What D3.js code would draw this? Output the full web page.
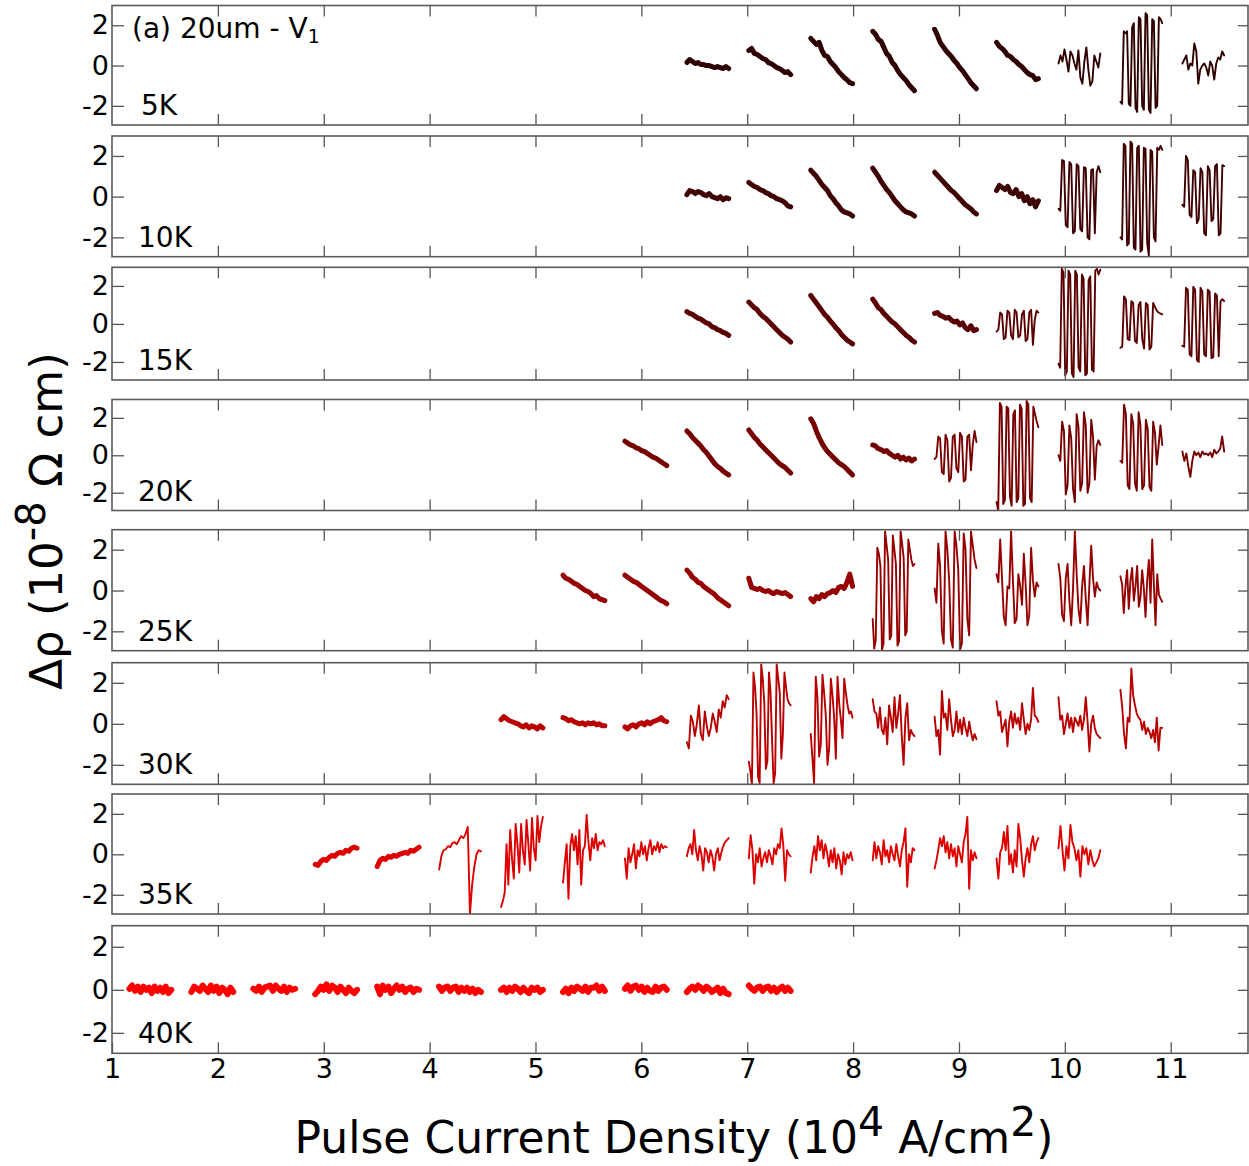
<!DOCTYPE html>
<html>
<head>
<meta charset="utf-8">
<script src="https://cdn.jsdelivr.net/npm/d3@7"></script>
<style>
  body { margin: 0; background: #fff; }
  svg { display: block; font-family: "DejaVu Sans", sans-serif; }
</style>
</head>
<body>
<div id="chart"></div>
<script>
// current density at the start of each pulse train (10^4 A/cm^2)
const pulseStart = [1.165, 1.75, 2.335, 2.92, 3.505, 4.09, 4.675, 5.26, 5.845,
                    6.43, 7.015, 7.6, 8.185, 8.77, 9.355, 9.94, 10.525, 11.11];
const pulseSpan = 0.395;

const temps = ["5K", "10K", "15K", "20K", "25K", "30K", "35K", "40K"];
const colors = ["#2e0000", "#3e0000", "#5a0000", "#760000", "#960000", "#b80000", "#dd0000", "#ff0000"];
// index into pulseStart of the first train measured at each temperature
const firstPulse = [9, 9, 9, 8, 7, 6, 3, 0];

const xTicks = [1, 2, 3, 4, 5, 6, 7, 8, 9, 10, 11];
const yTicks = [-2, 0, 2];

const trace5K = [
  [0.15, 0.3, 0.2, 0.1, 0.15, 0.05, 0.05, 0.0, 0.0, -0.05, -0.1, -0.05, -0.1, -0.15, -0.05, -0.15],
  [0.75, 0.85, 0.6, 0.55, 0.45, 0.35, 0.3, 0.15, 0.1, 0.0, -0.1, -0.15, -0.25, -0.35, -0.3, -0.45],
  [1.35, 1.2, 1.05, 1.15, 0.75, 0.5, 0.45, 0.2, 0.05, -0.1, -0.3, -0.45, -0.6, -0.7, -0.85, -0.9],
  [1.7, 1.55, 1.3, 1.2, 0.9, 0.6, 0.45, 0.15, 0.0, -0.25, -0.45, -0.6, -0.75, -0.95, -1.1, -1.25],
  [1.8, 1.5, 1.15, 0.95, 0.75, 0.6, 0.45, 0.25, 0.1, -0.1, -0.25, -0.45, -0.65, -0.85, -1.0, -1.15],
  [1.15, 0.95, 0.85, 0.7, 0.5, 0.45, 0.3, 0.2, 0.05, -0.05, -0.2, -0.35, -0.45, -0.5, -0.7, -0.65],
  [0.1, 0.5, 0.2, 0.8, 0.3, -0.3, 0.7, 0.5, 0.1, -0.2, 0.75, -0.6, -0.9, 0.2, 0.9, -0.2, -1.0, -0.8, 0.5, 0.2, -0.1, 0.6],
  [-1.8, -1.9, 1.7, 1.6, 1.7, -1.9, -2.0, 1.9, 2.1, -2.1, -2.3, 2.4, 2.3, -2.0, -2.2, 2.6, 2.5, -2.2, -2.35, 2.3, 2.2, -2.1, -2.0, 2.4, 2.3, 2.1],
  [0.1, 0.3, 0.5, -0.2, 0.1, 0.0, 1.1, 0.7, -0.9, -0.2, 0.0, 0.1, -0.1, -0.5, 0.2, 0.0, -0.7, 0.1, 0.4, 0.3, 0.7, 0.5]
];
const trace10K = [
  [0.1, 0.3, 0.25, 0.15, 0.25, 0.2, 0.1, 0.05, 0.15, 0.0, -0.05, -0.1, 0.0, -0.15, -0.05, -0.1],
  [0.7, 0.6, 0.5, 0.45, 0.35, 0.3, 0.2, 0.15, 0.05, 0.0, -0.1, -0.15, -0.2, -0.3, -0.45, -0.5],
  [1.3, 1.15, 1.0, 0.8, 0.6, 0.45, 0.3, 0.05, -0.1, -0.3, -0.45, -0.65, -0.75, -0.8, -0.85, -0.95],
  [1.4, 1.2, 1.0, 0.75, 0.55, 0.35, 0.2, 0.0, -0.2, -0.35, -0.5, -0.65, -0.75, -0.8, -0.85, -0.95],
  [1.2, 1.05, 0.9, 0.75, 0.6, 0.45, 0.3, 0.2, 0.05, -0.1, -0.25, -0.4, -0.5, -0.6, -0.75, -0.85],
  [0.3, 0.55, 0.45, 0.35, 0.5, 0.2, 0.15, 0.35, 0.0, 0.15, -0.2, 0.0, -0.35, -0.15, -0.5, -0.2],
  [-0.6, -0.7, 1.8, 1.75, -1.4, -1.5, 1.7, 1.6, -1.8, -1.7, 1.6, 1.5, -1.6, -1.7, 1.45, 1.4, -2.0, -2.1, 1.3, 1.35, -1.8, 1.2, 1.5, 1.2],
  [-2.0, -2.1, 2.6, 2.5, -2.4, -2.3, 2.7, 2.6, -2.5, -2.6, 2.4, 2.5, -2.7, -2.6, 2.4, 2.35, -2.3, -2.9, 2.3, 2.2, -2.0, -2.2, 2.4, 2.3, 2.5, 2.3],
  [-0.4, -0.5, 2.0, 1.8, -0.9, -1.0, 1.3, 1.2, -1.3, -1.1, 1.4, 1.2, -1.8, -1.9, 1.5, 1.3, -1.2, -1.1, 1.5, 1.6, -1.9, -1.8, 1.55, 1.5]
];
const trace15K = [
  [0.65, 0.55, 0.5, 0.4, 0.3, 0.25, 0.15, 0.05, 0.0, -0.15, -0.2, -0.3, -0.35, -0.45, -0.5, -0.6],
  [1.15, 1.0, 0.85, 0.75, 0.55, 0.4, 0.3, 0.15, 0.0, -0.15, -0.3, -0.45, -0.6, -0.7, -0.8, -0.95],
  [1.5, 1.3, 1.1, 0.9, 0.7, 0.5, 0.35, 0.15, 0.0, -0.2, -0.35, -0.55, -0.7, -0.85, -0.95, -1.05],
  [1.3, 1.1, 0.85, 0.75, 0.55, 0.4, 0.25, 0.1, 0.0, -0.15, -0.3, -0.45, -0.6, -0.7, -0.85, -0.95],
  [0.55, 0.6, 0.45, 0.4, 0.3, 0.35, 0.2, 0.1, 0.15, -0.05, 0.05, -0.2, -0.3, -0.1, -0.35, -0.3],
  [-0.4, -0.3, 0.6, 0.5, -0.8, -0.7, 0.7, 0.6, -0.6, -0.8, 0.75, 0.6, -0.7, -0.6, 0.5, 0.7, -0.9, -0.8, 0.6, 0.75, -1.1, 0.2, 0.7, 0.6],
  [-2.1, -2.3, 2.9, 2.7, -2.7, -2.5, 2.8, 2.6, -2.6, -2.8, 2.8, 2.6, -2.3, -2.5, 2.6, 2.4, -2.7, -2.6, 2.3, 2.5, -2.4, -2.5, 2.8, 2.9, 2.6, 2.85],
  [-1.25, -1.2, 1.45, 1.3, -0.8, -0.85, 1.2, 1.1, -0.9, -1.0, 1.0, 1.15, -0.8, -1.3, 1.1, 1.0, -1.35, -1.2, 1.1, 0.9, 0.7, 0.6, 0.55, 0.5],
  [-1.15, -1.2, 1.9, 1.8, -1.6, -1.7, 1.95, 1.8, -1.9, -2.0, 1.9, 1.7, -1.6, -1.7, 1.8, 1.7, -1.8, -1.75, 1.6, 1.5, -1.7, 1.2, 1.3, 1.2]
];
const trace20K = [
  [0.75, 0.65, 0.55, 0.5, 0.4, 0.35, 0.25, 0.2, 0.1, 0.0, -0.1, -0.15, -0.25, -0.35, -0.45, -0.55],
  [1.3, 1.15, 0.95, 0.8, 0.65, 0.5, 0.3, 0.15, -0.05, -0.25, -0.45, -0.6, -0.7, -0.85, -0.95, -1.05],
  [1.35, 1.15, 0.95, 0.8, 0.6, 0.45, 0.3, 0.15, 0.0, -0.15, -0.3, -0.45, -0.55, -0.65, -0.8, -0.95],
  [1.95, 1.7, 1.3, 0.95, 0.65, 0.4, 0.2, 0.05, -0.1, -0.25, -0.4, -0.5, -0.6, -0.75, -0.9, -1.05],
  [0.55, 0.5, 0.35, 0.3, 0.2, 0.25, 0.1, 0.0, -0.1, 0.0, -0.2, -0.1, -0.25, -0.15, -0.3, -0.2],
  [-0.2, -0.1, 1.0, 0.9, -0.9, -1.0, 1.1, 0.8, -1.4, -1.2, 1.0, 1.1, -0.7, -0.9, 1.2, 1.0, -1.4, -1.3, 1.0, 1.1, -0.8, 0.6, 1.3, 0.7],
  [-2.5, -2.95, 2.8, 2.6, -2.6, -2.4, 2.6, 2.5, -2.2, -2.7, 2.2, 2.4, -2.5, -2.3, 2.7, 2.5, -2.7, -2.6, 2.9, 2.7, -2.3, -2.5, 2.6, 2.2, 1.8, 1.5],
  [0.0, -0.3, 1.8, 1.3, -2.1, -1.6, 1.6, 0.9, -1.8, -2.5, 2.2, 1.5, -1.9, -1.5, 2.3, 1.6, -2.0, -1.5, 1.9, 1.0, -1.3, 0.5, 0.8, 0.55],
  [-0.3, -0.4, 2.7, 2.2, -1.6, -1.8, 2.2, 1.7, -1.5, -1.9, 2.3, 1.6, -1.8, -1.6, 1.9, 1.4, -1.7, -1.9, 1.8, 1.2, -0.5, 0.5, 1.6, 0.55],
  [0.2, -0.3, 0.1, -0.6, -1.15, -0.3, 0.2, 0.0, 0.15, -0.1, 0.2, 0.05, 0.1, 0.0, 0.15, -0.1, 0.3, 0.1, 0.2, 0.35, 1.0, 0.2]
];
const trace25K = [
  [0.75, 0.6, 0.55, 0.45, 0.35, 0.3, 0.2, 0.1, 0.0, -0.05, -0.15, -0.3, -0.25, -0.4, -0.45, -0.5],
  [0.75, 0.65, 0.55, 0.45, 0.4, 0.3, 0.2, 0.1, 0.0, -0.1, -0.2, -0.3, -0.4, -0.5, -0.55, -0.65],
  [1.0, 0.85, 0.65, 0.55, 0.4, 0.35, 0.2, 0.1, 0.0, -0.1, -0.2, -0.35, -0.45, -0.55, -0.65, -0.75],
  [0.6, 0.15, 0.1, 0.05, 0.1, 0.0, -0.05, 0.0, -0.1, -0.15, -0.05, -0.1, -0.15, -0.1, -0.2, -0.3],
  [-0.4, -0.55, -0.3, -0.4, -0.2, -0.3, -0.15, -0.1, 0.0, -0.1, 0.15, 0.2, 0.1, 0.4, 0.8, 0.2],
  [-1.4, -2.85, -2.4, 2.1, 1.8, 1.2, -2.9, -2.6, 2.9, 2.2, 1.5, -2.4, -2.2, 2.7, 2.0, 1.3, -2.7, -2.5, 2.9, 2.3, 1.6, -2.2, -2.0, 2.5, 2.0, 1.5, 1.2, 1.3],
  [0.1, -0.6, 2.3, 1.2, -2.0, -2.6, 2.9, 2.0, 0.5, -2.4, -2.8, 2.9, 2.2, 1.0, -2.9, -2.6, 2.8, 2.0, -1.4, -2.2, 2.9, 2.2, 1.5, 1.1],
  [0.8, 0.4, 2.5, 0.6, -1.3, -1.7, 0.2, 0.1, 2.9, 0.5, -1.6, -1.4, 0.8, 0.2, -0.7, 1.8, 0.3, -1.7, -1.2, 2.1, 0.5, -0.3, 0.4, 0.2],
  [1.3, 0.6, -1.2, -1.5, 0.6, 1.3, -0.5, -1.7, 0.1, 2.9, 0.8, -0.9, -1.6, 0.2, 1.2, -0.4, -1.7, 0.3, 2.2, 0.6, -0.3, 0.4, 0.1, 0.0],
  [0.7, 0.3, -1.1, 0.2, 1.0, -0.9, 0.5, 1.1, -0.5, 0.2, 1.2, -0.8, -0.3, 1.0, 0.1, -1.3, 0.5, 1.5, -0.6, 2.5, 0.3, -1.7, 0.8, -0.2, -0.4, -0.55]
];
const trace30K = [
  [0.2, 0.35, 0.25, 0.15, 0.1, 0.05, 0.0, -0.1, -0.15, -0.05, -0.2, -0.1, -0.15, -0.25, -0.1, -0.2],
  [0.3, 0.25, 0.15, 0.2, 0.1, 0.05, 0.0, 0.05, -0.05, 0.05, 0.0, 0.05, -0.05, 0.0, -0.1, -0.1],
  [-0.15, -0.25, -0.1, -0.05, -0.15, 0.0, 0.05, -0.05, 0.1, 0.0, 0.1, 0.15, 0.2, 0.3, 0.15, 0.1],
  [-0.9, -1.2, 0.4, 0.1, -0.6, 0.0, 0.9, -0.5, -0.8, 0.6, -0.1, -0.6, -0.2, 0.5, 0.1, -0.4, 0.7, 0.3, 1.1, 0.8, 1.4, 1.2],
  [-1.85, -2.3, -3.0, 2.5, 1.8, 0.5, -2.6, -2.9, 2.9, 2.2, 1.0, -2.2, -1.8, 2.5, 1.6, -0.8, -2.9, -2.4, 2.9, 2.2, 1.5, -1.7, -0.5, 2.5, 1.8, 1.2, 1.0, 0.9],
  [-0.5, -1.7, -2.9, 2.3, 1.3, -1.6, -1.0, 2.4, 1.5, 0.4, -2.0, -1.2, 2.2, 1.4, 0.3, -1.7, 2.3, 1.0, 0.2, -0.7, 2.2, 1.5, 0.9, 0.5, 0.6, 0.3],
  [1.2, 0.6, 0.5, -0.2, 0.8, -0.3, -0.5, 0.3, -1.0, 0.9, 0.3, -0.4, 1.3, -0.2, 0.5, 1.4, -0.6, -2.0, 0.3, 1.0, -0.8, -0.3, -0.5, -0.6],
  [0.35, -0.6, -0.3, -1.5, 1.6, 0.3, 0.5, -0.3, 1.2, 0.2, -0.6, -0.3, 0.6, -0.4, 0.2, -0.5, 0.3, -0.2, -0.6, 0.1, -0.4, -0.8, -0.5, -0.75],
  [1.1, 0.4, 0.6, -0.4, -0.1, 0.2, -1.1, 0.1, 0.6, -0.2, 0.5, 0.0, 0.3, -0.3, 1.0, 0.2, -0.5, 0.0, -0.3, 0.2, 1.75, 0.4, 0.3, 0.1],
  [1.3, 0.2, 0.4, -0.5, 0.0, 0.5, -0.2, 0.3, -0.4, 0.3, 0.1, -0.1, 0.4, -0.3, 0.2, 1.3, 0.1, -1.35, 0.0, 0.4, -0.2, -0.5, -0.6, -0.7],
  [1.65, 0.8, -0.5, -1.2, 0.3, 0.1, 2.7, 1.4, 0.9, 0.5, 0.3, 0.2, -0.3, 0.1, -0.5, -0.2, -0.4, -0.7, -0.3, -0.9, 0.3, -1.3, -0.2, -0.2]
];
const trace35K = [
  [-0.5, -0.55, -0.35, -0.25, -0.3, -0.15, -0.05, -0.1, 0.05, 0.1, 0.05, 0.2, 0.15, 0.3, 0.35, 0.3],
  [-0.6, -0.3, -0.2, -0.25, -0.1, -0.15, -0.05, -0.1, 0.0, 0.05, 0.1, 0.05, 0.2, 0.15, 0.25, 0.35],
  [-0.75, -0.1, 0.2, 0.25, 0.4, 0.35, 0.55, 0.6, 0.5, 0.7, 0.9, 0.8, 1.0, 1.35, -2.95, -1.5, -0.6, 0.0, 0.2, 0.15],
  [-2.6, -2.3, -1.9, 0.5, -1.5, 1.2, -0.2, -1.2, 1.5, 0.5, -0.9, 1.5, 0.2, -0.5, 1.7, 0.5, -0.8, 1.8, 0.3, -0.3, 1.9, 0.6, 1.4, 1.85],
  [-1.4, -0.4, 0.5, -2.2, 0.4, 1.0, 0.2, 0.9, -0.5, 1.2, -1.5, 0.2, 0.4, 1.95, 0.6, -0.3, 0.8, 0.3, 1.0, 0.2, 0.6, 0.5, 0.7, 0.4],
  [-0.2, -1.2, 0.3, -0.4, 0.0, 0.5, -0.7, 0.2, -0.1, 0.6, 0.0, 0.4, -0.3, 0.3, 0.7, 0.0, 0.4, 0.2, 0.6, 0.1, 0.5, 0.3, 0.4, 0.35],
  [-0.1, 0.3, 0.5, 0.0, 1.2, 0.2, -0.3, 0.4, 0.0, -0.8, 0.3, 0.1, -0.4, 0.2, -0.1, -0.8, 0.0, 0.3, -0.3, 0.1, 0.4, 0.6, 0.7, 0.8],
  [-0.2, 0.95, 0.2, -1.45, 0.0, -0.4, 0.3, -0.6, -0.2, 0.1, -0.4, 0.2, -0.1, -0.5, 0.3, 0.0, 0.5, 0.3, 1.28, 0.4, -1.3, 0.2, 0.0, -0.1],
  [-0.9, -0.1, 0.4, -0.3, 0.9, 0.2, 0.7, -0.2, 0.5, 0.1, -0.6, 0.2, -0.4, 0.3, -0.7, 0.0, -0.3, -1.0, 0.1, -0.5, 0.0, -0.2, 0.1, -0.3],
  [-0.3, 0.6, -0.2, 0.4, 0.1, -0.5, 0.7, -0.1, 0.2, -0.4, 0.4, 0.0, -0.3, 0.5, -0.1, -0.6, 0.2, 0.6, 1.28, -1.6, 0.0, -0.4, 0.3, 0.2],
  [-0.7, -0.3, 0.2, 0.8, 0.4, 0.9, 0.1, 0.6, -0.2, 0.5, -0.1, 0.3, -0.6, 0.4, 0.0, -0.4, 0.6, 1.0, 1.85, -1.7, 0.2, -0.3, 0.1, -0.2],
  [-0.2, -1.2, 0.1, 0.3, 1.1, 0.2, 1.4, -0.5, 0.0, -0.9, 0.2, -0.6, 1.5, 0.8, -0.3, -1.1, -0.2, 0.3, -0.4, 0.5, 0.9, 0.2, 0.6, 0.8],
  [0.3, 1.4, 0.2, -0.8, 0.4, -0.2, 1.45, 0.6, 0.3, -0.3, 0.2, -1.1, 0.4, 0.0, 0.3, -0.5, 0.2, -0.3, -0.6, -0.4, -0.2, 0.2]
];
const trace40K = [
  [0.05, 0.2, -0.05, 0.15, -0.1, 0.15, 0.0, 0.1, -0.15, 0.15, -0.05, 0.1, -0.1, 0.15, -0.15, 0.0],
  [-0.1, 0.15, 0.05, -0.05, 0.2, 0.05, -0.1, 0.2, -0.05, 0.15, -0.15, 0.1, 0.0, -0.2, 0.1, -0.1],
  [0.05, -0.05, 0.15, -0.1, 0.1, 0.15, 0.2, -0.05, 0.2, 0.05, -0.05, 0.15, -0.1, 0.1, 0.0, 0.05],
  [-0.2, -0.05, 0.15, 0.0, 0.25, -0.05, 0.2, 0.1, -0.1, 0.15, 0.0, -0.15, 0.1, -0.05, -0.15, 0.0],
  [0.15, -0.2, 0.2, 0.0, 0.15, -0.15, 0.05, 0.2, 0.0, 0.15, -0.1, 0.05, 0.1, -0.1, 0.05, 0.0],
  [0.15, -0.05, 0.1, 0.15, -0.05, 0.1, 0.15, -0.1, 0.1, -0.05, 0.1, -0.1, 0.05, -0.15, 0.0, -0.1],
  [0.0, 0.1, -0.1, 0.1, -0.05, 0.15, 0.05, -0.1, 0.1, -0.05, -0.15, 0.1, 0.0, 0.1, -0.1, 0.0],
  [-0.1, 0.05, -0.15, 0.1, -0.05, 0.15, 0.05, -0.05, 0.15, -0.1, 0.1, 0.1, 0.2, -0.05, 0.15, -0.05],
  [0.05, 0.2, -0.05, 0.15, 0.2, 0.0, 0.15, -0.1, 0.1, -0.05, -0.1, 0.15, -0.05, 0.1, 0.15, 0.0],
  [-0.1, 0.05, 0.15, 0.0, 0.2, 0.1, -0.05, 0.15, 0.05, -0.1, 0.0, 0.1, -0.15, 0.05, -0.15, -0.2],
  [0.2, 0.05, -0.05, 0.1, 0.15, -0.05, 0.1, 0.15, -0.05, 0.1, -0.1, 0.05, 0.15, -0.05, 0.1, -0.05]
];
const traces = [trace5K, trace10K, trace15K, trace20K, trace25K, trace30K, trace35K, trace40K];

// layout
const width = 1249, height = 1166;
const plotLeft = 112, plotRight = 1248;
const panelBox = [[5.5, 125], [136, 256.7], [267.3, 380], [399.5, 510.5],
                  [529.7, 650.7], [662.7, 784.3], [794, 914], [925.7, 1053.3]];

const svg = d3.select("#chart").append("svg")
    .attr("width", width)
    .attr("height", height);

const x = d3.scaleLinear().domain([1, 11.73]).range([plotLeft, plotRight]);

const line = d3.line().curve(d3.curveLinear);
const plainNum = d => String(d); // hyphen-minus, as in the original figure

traces.forEach((panel, p) => {
    const [top, bottom] = panelBox[p];
    const y = d3.scaleLinear().domain([-2.95, 2.98]).range([bottom, top]);
    const g = svg.append("g");

    g.append("clipPath").attr("id", "clip" + p)
        .append("rect")
        .attr("x", plotLeft).attr("y", top)
        .attr("width", plotRight - plotLeft).attr("height", bottom - top);

    const traceG = g.append("g").attr("clip-path", `url(#clip${p})`);
    panel.forEach((vals, s) => {
        const x0 = pulseStart[firstPulse[p] + s];
        const n = vals.length;
        const pts = vals.map((v, i) => [x(x0 + pulseSpan * i / (n - 1)), y(v)]);
        // switching traces are drawn thin, slowly drifting ones as a thick noisy band
        const maxJump = d3.max(d3.pairs(vals), ([a, b]) => Math.abs(b - a));
        const thick = maxJump < 0.7;
        traceG.append("path")
            .attr("d", line(pts))
            .attr("fill", "none")
            .attr("stroke", colors[p])
            .attr("stroke-width", thick ? (p === 7 ? 6 : 5) : 1.9)
            .attr("stroke-linejoin", "round")
            .attr("stroke-linecap", "round");
    });

    // axes with inward ticks on all four sides
    const left = g.append("g")
        .attr("transform", `translate(${plotLeft},0)`)
        .call(d3.axisLeft(y).tickValues(yTicks).tickSizeInner(-12).tickSizeOuter(0).tickPadding(3).tickFormat(plainNum));
    left.selectAll("text")
        .style("font-family", '"DejaVu Sans", sans-serif')
        .style("font-size", "27px")
        .attr("fill", "#000");

    g.append("g")
        .attr("transform", `translate(${plotRight},0)`)
        .call(d3.axisRight(y).tickValues(yTicks).tickSizeInner(-10).tickSizeOuter(0).tickFormat(""));

    g.append("g")
        .attr("transform", `translate(0,${top})`)
        .call(d3.axisTop(x).tickValues(xTicks.slice(1)).tickSizeInner(-11).tickSizeOuter(0).tickFormat(""));

    const bottomAxis = g.append("g")
        .attr("transform", `translate(0,${bottom})`)
        .call(d3.axisBottom(x).tickValues(p === 7 ? xTicks : xTicks.slice(1))
            .tickSizeInner(-11).tickSizeOuter(0).tickPadding(6)
            .tickFormat(p === 7 ? plainNum : ""));
    bottomAxis.selectAll("text")
        .style("font-family", '"DejaVu Sans", sans-serif')
        .style("font-size", "27px")
        .attr("fill", "#000");

    g.selectAll(".domain").remove();
    g.selectAll(".tick line").attr("stroke", "#555").attr("stroke-width", 1.3);

    g.append("rect")
        .attr("x", plotLeft).attr("y", top)
        .attr("width", plotRight - plotLeft).attr("height", bottom - top)
        .attr("fill", "none")
        .attr("stroke", "#5a5a5a")
        .attr("stroke-width", 1.6);

    g.append("text")
        .attr("x", p === 0 ? 141 : 138)
        .attr("y", bottom - 10)
        .attr("font-size", 28)
        .attr("fill", "#000")
        .text(temps[p]);
});

// panel tag
const tag = svg.append("text")
    .attr("x", 132).attr("y", 38)
    .attr("font-size", 28)
    .attr("fill", "#000");
tag.append("tspan").text("(a) 20um - V");
tag.append("tspan").attr("font-size", 19).attr("dy", 5).text("1");

// axis titles
const xTitle = svg.append("text")
    .attr("x", 674).attr("y", 1153)
    .attr("text-anchor", "middle")
    .attr("font-size", 44)
    .attr("fill", "#000");
xTitle.append("tspan").text("Pulse Current Density (10");
xTitle.append("tspan").attr("dy", -17).attr("font-size", 41).text("4");
xTitle.append("tspan").attr("dy", 17).text(" A/cm");
xTitle.append("tspan").attr("dy", -17).attr("font-size", 41).text("2");
xTitle.append("tspan").attr("dy", 17).text(")");

const yTitle = svg.append("text")
    .attr("transform", "translate(62,521) rotate(-90)")
    .attr("text-anchor", "middle")
    .attr("font-size", 45)
    .attr("fill", "#000");
yTitle.append("tspan").text("Δρ (10");
yTitle.append("tspan").attr("dy", -17).attr("font-size", 40).text("-8");
yTitle.append("tspan").attr("dy", 17).text(" Ω cm)");
</script>
</body>
</html>
